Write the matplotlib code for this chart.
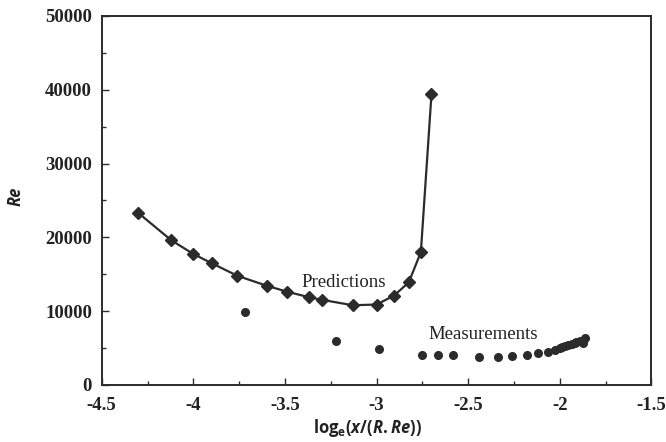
import matplotlib.pyplot as plt
from matplotlib.ticker import MultipleLocator

# Predictions (diamonds with curve)
pred_x = [-4.30, -4.12, -4.00, -3.90, -3.76, -3.60, -3.49, -3.37, -3.30,
          -3.13, -3.00, -2.905, -2.824, -2.758, -2.700]
pred_re = [23300, 19600, 17750, 16500, 14800, 13450, 12650, 11900, 11550,
           10800, 10900, 12100, 13900, 18000, 39400]

# Measurements (dots)
meas_x = [-3.72, -3.222, -2.987, -2.754, -2.664, -2.585, -2.442, -2.336,
          -2.258, -2.181, -2.121, -2.064, -2.027, -1.999, -1.990, -1.970,
          -1.954, -1.935, -1.918, -1.909, -1.890, -1.873, -1.864]
meas_re = [9900, 5950, 4850, 4100, 4100, 4100, 3850, 3850, 3950, 4000, 4300,
           4500, 4700, 5050, 5150, 5300, 5400, 5500, 5700, 5850, 6000, 5700, 6300]

plt.rcParams['mathtext.fontset'] = 'custom'
plt.rcParams['mathtext.rm'] = 'Open Sans:bold'
plt.rcParams['mathtext.it'] = 'Open Sans:italic:bold'

fig = plt.figure(figsize=(6.66, 4.42), dpi=100)
ax = fig.add_axes([0.1527, 0.129, 0.8253, 0.835])

ink = '#2b2b2b'
ax.plot(pred_x, pred_re, '-', color=ink, lw=1.6, marker='D', ms=6.5,
        mfc=ink, mec=ink)
ax.plot(meas_x, meas_re, 'o', color=ink, ms=5.5, mec=ink)

ax.text(-3.411, 13850, 'Predictions', family='Liberation Serif', fontsize=13.5,
        va='center', ha='left', color='#222222')
ax.text(-2.718, 6800, 'Measurements', family='Liberation Serif', fontsize=13.5,
        va='center', ha='left', color='#222222')

ax.set_xlim(-4.5, -1.5)
ax.set_ylim(0, 50000)
ax.xaxis.set_major_locator(MultipleLocator(0.5))
ax.xaxis.set_minor_locator(MultipleLocator(0.25))
ax.yaxis.set_major_locator(MultipleLocator(10000))
ax.yaxis.set_minor_locator(MultipleLocator(5000))
ax.xaxis.set_major_formatter(plt.FuncFormatter(lambda v, p: '%g' % v))

ax.tick_params(which='both', direction='in', top=False, right=False,
               color=ink, width=1.0)
ax.tick_params(which='major', length=5, labelsize=13.5, pad=7)
ax.tick_params(axis='x', which='major', pad=9)
ax.tick_params(which='minor', length=3)
for lab in ax.get_xticklabels() + ax.get_yticklabels():
    lab.set_family('Liberation Serif')
    lab.set_fontweight('bold')
    lab.set_color('#222222')

for s in ax.spines.values():
    s.set_linewidth(1.4)
    s.set_color(ink)

ax.set_xlabel(r'$\mathrm{log_e}\mathit{(x/(R.Re))}$', fontsize=12,
              color='#222222')
ax.xaxis.set_label_coords(0.484, -0.117)
ax.xaxis.label.set_va('center')
ax.set_ylabel('Re', family='Open Sans', style='italic',
              fontweight='bold', fontsize=12, color='#222222')
ax.yaxis.set_label_coords(-0.14, 0.51)

fig.savefig('out.png', dpi=100)
